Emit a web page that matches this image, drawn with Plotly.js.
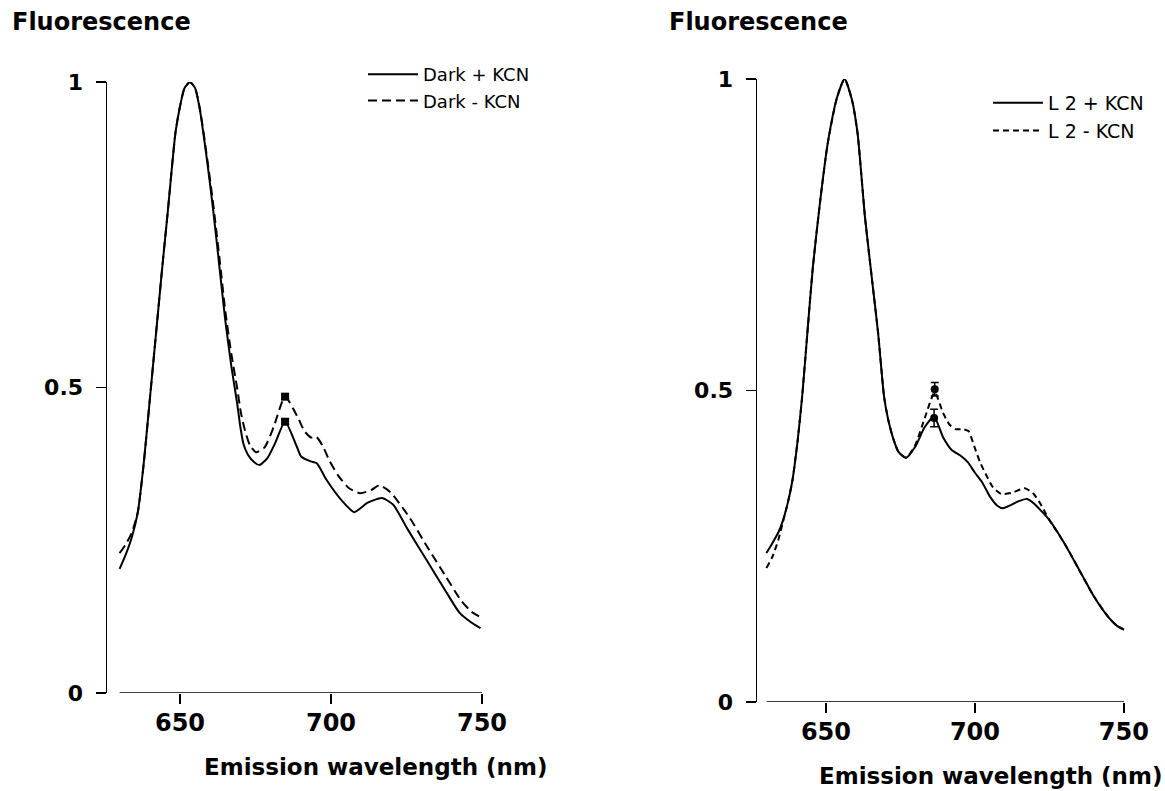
<!DOCTYPE html>
<html>
<head>
<meta charset="utf-8">
<script src="https://cdn.plot.ly/plotly-3.0.1.min.js"></script>
<style>html,body{margin:0;padding:0;background:#fff;}</style>
</head>
<body>
<div id="chart" style="width:1165px;height:791px;"></div>
<script>
// ---- Left panel: Dark +/- KCN ----
const darkPlusWl  = [630, 632, 634, 636, 638, 640, 642, 644, 646, 648.5, 650, 651.5, 653.3, 655, 656.6, 659, 661, 663, 665, 667, 668.9, 670, 671, 672.5, 674.5, 676.3, 679, 681.5, 684.8, 688.7, 690.1, 693.3, 695.3, 698.5, 703.4, 707.7, 712, 716.9, 720.6, 725.5, 731.6, 737.7, 742.6, 746, 749.5];
const darkPlusVal = [0.203, 0.226, 0.254, 0.295, 0.376, 0.48, 0.585, 0.69, 0.79, 0.917, 0.96, 0.99, 1.0, 0.99, 0.954, 0.87, 0.79, 0.70, 0.61, 0.535, 0.475, 0.435, 0.408, 0.39, 0.378, 0.373, 0.385, 0.409, 0.444, 0.403, 0.387, 0.379, 0.376, 0.349, 0.316, 0.296, 0.311, 0.319, 0.308, 0.267, 0.218, 0.169, 0.131, 0.117, 0.106];
const darkMinusWl  = [630, 632, 634, 636, 638, 640, 642, 644, 646, 648.5, 650, 651.5, 653.3, 655, 656.6, 659, 661, 663, 665, 667, 668.9, 670.2, 671.5, 673.2, 675.2, 678, 681, 684.8, 688.9, 691.3, 693.5, 695, 697.2, 699.5, 702.5, 706, 709.6, 713.3, 716, 719.6, 725.9, 731.9, 738.1, 743, 746.5, 750];
const darkMinusVal = [0.229, 0.243, 0.262, 0.295, 0.376, 0.48, 0.585, 0.69, 0.79, 0.917, 0.96, 0.99, 1.0, 0.99, 0.956, 0.875, 0.80, 0.715, 0.625, 0.555, 0.50, 0.458, 0.43, 0.405, 0.394, 0.402, 0.435, 0.485, 0.452, 0.428, 0.418, 0.42, 0.405, 0.38, 0.355, 0.335, 0.327, 0.332, 0.340, 0.329, 0.288, 0.239, 0.190, 0.152, 0.133, 0.123];
const darkMarkWl  = [684.8, 684.8];
const darkMarkVal = [0.485, 0.444];
const darkMarkErr = [0.004, 0.004];

// ---- Right panel: L2 +/- KCN ----
const l2PlusWl  = [630, 632, 634, 635.6, 637.2, 638.75, 640.5, 642, 643.75, 645.6, 648.1, 650.6, 653.75, 656.25, 658.75, 660.6, 663.1, 665.6, 667.5, 669.5, 670.8, 672.5, 674.4, 676.9, 680, 683.1, 686.3, 689.3, 692.3, 695, 697.6, 700, 702.5, 705, 707.5, 709.4, 712, 714.5, 717.5, 720, 722, 725, 730, 735, 740, 745, 747.5, 750];
const l2PlusVal = [0.239, 0.255, 0.272, 0.292, 0.32, 0.356, 0.42, 0.49, 0.592, 0.698, 0.806, 0.897, 0.971, 1.0, 0.966, 0.913, 0.778, 0.672, 0.592, 0.49, 0.455, 0.424, 0.401, 0.392, 0.41, 0.441, 0.458, 0.425, 0.404, 0.396, 0.385, 0.368, 0.352, 0.33, 0.315, 0.311, 0.316, 0.322, 0.326, 0.318, 0.308, 0.292, 0.255, 0.212, 0.169, 0.135, 0.123, 0.116];
const l2MinusWl  = [630, 632, 634, 635.6, 637.2, 638.75, 640.5, 642, 643.75, 645.6, 648.1, 650.6, 653.75, 656.25, 658.75, 660.6, 663.1, 665.6, 667.5, 669.5, 670.8, 672.5, 674.4, 676.9, 680, 683.1, 686.5, 689.3, 691.5, 693.5, 696, 697.8, 699.8, 701.7, 703.6, 706, 708.8, 712.5, 716.7, 719.5, 721.5, 723.5, 725, 730, 735, 740, 745, 747.5, 750];
const l2MinusVal = [0.215, 0.233, 0.26, 0.29, 0.32, 0.356, 0.42, 0.49, 0.592, 0.698, 0.806, 0.897, 0.971, 1.0, 0.966, 0.913, 0.778, 0.672, 0.592, 0.49, 0.455, 0.424, 0.401, 0.392, 0.413, 0.455, 0.497, 0.464, 0.445, 0.438, 0.438, 0.435, 0.41, 0.385, 0.366, 0.345, 0.334, 0.336, 0.343, 0.335, 0.322, 0.305, 0.292, 0.255, 0.212, 0.169, 0.135, 0.123, 0.116];
const l2MarkWl  = [686.5, 686.3];
const l2MarkVal = [0.502, 0.456];
const l2MarkErr = [0.011, 0.014];

const yTickVals = [0, 0.5, 1];
const yTickText = ['0', '0.5', '1'];
const xTickVals = [650, 700, 750];
const xTickText = ['650', '700', '750'];

const W = 1165, H = 791;
const px = v => v / W;
const py = v => 1 - v / H;

const lineTrace = (x, y, name, dash, xa, ya, legend) => ({
  type: 'scatter', mode: 'lines', x: x, y: y, name: name,
  xaxis: xa, yaxis: ya, legend: legend, cliponaxis: false,
  line: {color: '#000', width: 2, dash: dash, shape: 'spline', smoothing: 0.6},
  hoverinfo: 'skip'
});
const markTrace = (x, y, err, symbol, size, xa, ya) => ({
  type: 'scatter', mode: 'markers', x: x, y: y, showlegend: false,
  xaxis: xa, yaxis: ya, cliponaxis: false,
  marker: {color: '#000', symbol: symbol, size: size},
  error_y: {type: 'data', array: err, visible: true, color: '#000', thickness: 1.5, width: 4},
  hoverinfo: 'skip'
});

const data = [
  lineTrace(darkPlusWl, darkPlusVal, 'Dark + KCN', 'solid', 'x', 'y', 'legend'),
  lineTrace(darkMinusWl, darkMinusVal, 'Dark - KCN', '9px,5px', 'x', 'y', 'legend'),
  markTrace(darkMarkWl, darkMarkVal, darkMarkErr, 'square', 8, 'x', 'y'),
  lineTrace(l2PlusWl, l2PlusVal, 'L 2 + KCN', 'solid', 'x2', 'y2', 'legend2'),
  lineTrace(l2MinusWl, l2MinusVal, 'L 2 - KCN', '6px,4px', 'x2', 'y2', 'legend2'),
  markTrace(l2MarkWl, l2MarkVal, l2MarkErr, 'circle', 8, 'x2', 'y2')
];

const tickFontX = {family: 'DejaVu Sans', size: 24, color: '#000', weight: 'bold'};
const tickFontY = {family: 'DejaVu Sans', size: 22, color: '#000', weight: 'bold'};

const xAxisCommon = {
  tickvals: xTickVals, ticktext: xTickText, ticks: 'outside', ticklen: 10, tickwidth: 1.5,
  tickcolor: '#000', showline: false, showgrid: false, zeroline: false,
  tickfont: tickFontX, fixedrange: true, ticklabelstandoff: -2
};
const yAxisCommon = {
  range: [0, 1], tickvals: yTickVals, ticktext: yTickText, ticks: 'outside', ticklen: 10,
  tickwidth: 1.5, tickcolor: '#000', showline: true, linecolor: '#000', linewidth: 1.5,
  showgrid: false, zeroline: false, tickfont: tickFontY, fixedrange: true, ticklabelstandoff: 8
};

const titleFont = {family: 'DejaVu Sans', size: 23, color: '#000', weight: 'bold'};
const headFont = {family: 'DejaVu Sans', size: 24, color: '#000', weight: 'bold'};

const layout = {
  width: W, height: H,
  margin: {l: 0, r: 0, t: 0, b: 0},
  paper_bgcolor: '#fff', plot_bgcolor: 'rgba(0,0,0,0)',
  xaxis: Object.assign({}, xAxisCommon, {domain: [px(107), px(490)], range: [625.83, 752.65], anchor: 'y'}),
  yaxis: Object.assign({}, yAxisCommon, {domain: [py(693), py(82)], anchor: 'x'}),
  xaxis2: Object.assign({}, xAxisCommon, {domain: [px(757), px(1140)], range: [626.85, 755.4], anchor: 'y2'}),
  yaxis2: Object.assign({}, yAxisCommon, {domain: [py(702), py(79)], anchor: 'x2'}),
  legend: {x: px(363), y: py(56), xanchor: 'left', yanchor: 'top', itemwidth: 50,
           font: {family: 'DejaVu Sans', size: 18, color: '#000'}, bgcolor: 'rgba(0,0,0,0)', borderwidth: 0},
  legend2: {x: px(988), y: py(84), xanchor: 'left', yanchor: 'top', itemwidth: 50,
            font: {family: 'DejaVu Sans', size: 19, color: '#000'}, bgcolor: 'rgba(0,0,0,0)', borderwidth: 0},
  shapes: [
    {type: 'line', xref: 'x', yref: 'y', x0: 630, x1: 750, y0: 0, y1: 0, line: {color: '#000', width: 1.5}, layer: 'above'},
    {type: 'line', xref: 'x2', yref: 'y2', x0: 630, x1: 750, y0: 0, y1: 0, line: {color: '#000', width: 1.5}, layer: 'above'}
  ],
  annotations: [
    {text: 'Fluorescence', xref: 'paper', yref: 'paper', x: px(10), y: py(22), xanchor: 'left', yanchor: 'middle',
     showarrow: false, font: headFont},
    {text: 'Fluorescence', xref: 'paper', yref: 'paper', x: px(667), y: py(22), xanchor: 'left', yanchor: 'middle',
     showarrow: false, font: headFont},
    {text: 'Emission wavelength (nm)', xref: 'paper', yref: 'paper', x: px(202), y: py(767), xanchor: 'left', yanchor: 'middle',
     showarrow: false, font: titleFont},
    {text: 'Emission wavelength (nm)', xref: 'paper', yref: 'paper', x: px(817), y: py(776), xanchor: 'left', yanchor: 'middle',
     showarrow: false, font: titleFont}
  ]
};

Plotly.newPlot('chart', data, layout, {staticPlot: true, displayModeBar: false});
</script>
</body>
</html>
